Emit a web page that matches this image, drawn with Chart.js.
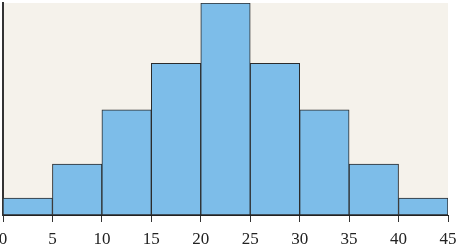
<!DOCTYPE html>
<html><head><meta charset="utf-8">
<script src="https://cdn.jsdelivr.net/npm/chart.js@4/dist/chart.umd.min.js"></script>
<style>html,body{margin:0;padding:0;background:#fff}#w{width:459px;height:246px}</style>
</head><body><div id="w"><canvas id="c"></canvas></div>
<script>
const binCenters = [2.5, 7.5, 12.5, 17.5, 22.5, 27.5, 32.5, 37.5, 42.5];
const counts = [2, 6, 12.4, 17.9, 25, 17.9, 12.4, 6, 2];
const tickValues = [0, 5, 10, 15, 20, 25, 30, 35, 40, 45];

const bgPlugin = {
  id: 'bg',
  beforeDraw(chart) {
    const {ctx, chartArea: a} = chart;
    ctx.save();
    ctx.fillStyle = '#f5f2eb';
    ctx.fillRect(a.left, a.top, a.right - a.left, a.bottom - a.top);
    ctx.restore();
  }
};

new Chart(document.getElementById('c'), {
  type: 'bar',
  data: {
    datasets: [{
      data: binCenters.map((x, i) => ({x, y: counts[i]})),
      backgroundColor: '#7dbde9',
      borderColor: '#2b2b2b',
      borderWidth: 1,
      barPercentage: 1,
      categoryPercentage: 1,
      borderSkipped: false
    }]
  },
  options: {
    responsive: true,
    maintainAspectRatio: false,
    animation: false,
    layout: {padding: {left: 0, right: 0, top: 3, bottom: 0}},
    plugins: {legend: {display: false}, tooltip: {enabled: false}},
    scales: {
      x: {
        type: 'linear',
        offset: false,
        min: 0, max: 45,
        afterBuildTicks(s) { s.ticks = tickValues.map(v => ({value: v})); },
        afterFit(s) { s.paddingLeft = 3; s.paddingRight = 11; s.height = 31; },
        ticks: {
          font: {family: '"Liberation Serif", "Times New Roman", serif', size: 17, lineHeight: 1},
          color: '#222',
          padding: 9,
          maxRotation: 0
        },
        grid: {offset: false, drawOnChartArea: false, drawTicks: true, tickLength: 7, color: '#333', lineWidth: 1},
        border: {display: true, color: '#222', width: 1}
      },
      y: {
        min: 0, max: 25,
        afterFit(s) { s.width = 3; },
        ticks: {display: false},
        grid: {display: false, drawTicks: false},
        border: {display: true, color: '#333', width: 2}
      }
    }
  },
  plugins: [bgPlugin]
});
</script></body></html>
